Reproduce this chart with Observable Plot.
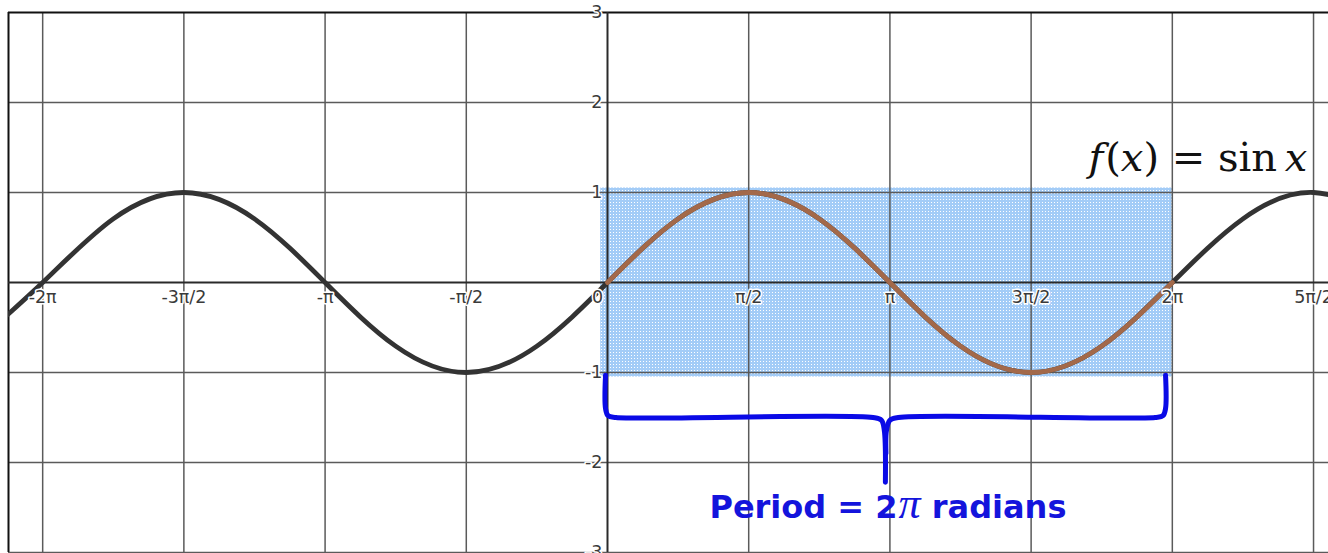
<!DOCTYPE html>
<html><head><meta charset="utf-8">
<script src="https://cdn.jsdelivr.net/npm/d3@7"></script>
<script src="https://cdn.jsdelivr.net/npm/@observablehq/plot@0.6"></script>
<style>html,body{margin:0;padding:0;background:#fff;} svg{display:block;}</style>
</head><body><div id="chart"></div>
<script>
// x values are expressed in units of π
const xDomain = [-2.121, 2.553];
const yDomain = [-3, 3];
const xGrid = [-2, -1.5, -1, -0.5, 0.5, 1, 1.5, 2, 2.5];
const xTickValues = [-2, -1.5, -1, -0.5, 0.5, 1, 1.5, 2, 2.5];
const xTickLabels = ["-2π", "-3π/2", "-π", "-π/2", "π/2", "π", "3π/2", "2π", "5π/2"];
const originLabel = ["0"];
const yGrid = [-3, -2, -1, 1, 2];
const yTickValues = [3, 2, 1, -1, -2, -3];
const yTickLabels = ["3", "2", "1", "-1", "-2", "-3"];

// f(x) = sin x, read at every π/4
const curveX = [-2.25, -2, -1.75, -1.5, -1.25, -1, -0.75, -0.5, -0.25, 0, 0.25, 0.5, 0.75, 1, 1.25, 1.5, 1.75, 2, 2.25, 2.5, 2.75];
const curveY = [-0.707, 0, 0.707, 1, 0.707, 0, -0.707, -1, -0.707, 0, 0.707, 1, 0.707, 0, -0.707, -1, -0.707, 0, 0.707, 1, 0.707];
const periodRange = [0, 2];

// shaded one-period band
const bandX = [-0.024, 2.0];
const bandY = [-1.05, 1.05];

// curly brace under the band
const braceLeftX  = [-0.007, -0.007, 0.002, 0.030, 0.940, 0.970, 0.980, 0.984];
const braceLeftY  = [-1.03, -1.40, -1.48, -1.50, -1.50, -1.53, -1.64, -2.22];
const braceRightX = [1.976, 1.976, 1.967, 1.939, 1.030, 1.000, 0.988, 0.986];
const braceRightY = [-1.03, -1.40, -1.48, -1.50, -1.50, -1.53, -1.64, -1.90];

const formulaLabel = {text: "f(x) = sin x", x: 1.703, y: 1.376};
const periodLabel = {text: "Period = 2π radians", x: 0.993, y: -2.50};

const curve = curveX.map((x, i) => ({x, y: curveY[i]}));
const periodCurve = curve.filter(d => d.x >= periodRange[0] && d.x <= periodRange[1]);
const braceLeft = braceLeftX.map((x, i) => ({x, y: braceLeftY[i]}));
const braceRight = braceRightX.map((x, i) => ({x, y: braceRightY[i]}));
const xTicks = xTickValues.map((v, i) => ({v, label: xTickLabels[i]}));
const yTicks = yTickValues.map((v, i) => ({v, label: yTickLabels[i]}));

const gridColor = "#5a5a5a";
const tickFont = {fontFamily: "DejaVu Sans", fontSize: 17.5, fill: "#3a3a3a", stroke: "white", strokeWidth: 3};

const svg = Plot.plot({
  width: 1328, height: 553,
  marginTop: 12, marginLeft: 8, marginRight: 0, marginBottom: 1,
  x: {domain: xDomain, axis: null},
  y: {domain: yDomain, axis: null},
  style: {background: "white"},
  marks: [
    Plot.rect([{}], {x1: bandX[0], x2: bandX[1], y1: bandY[0], y2: bandY[1], fill: "url(#dots)"}),
    Plot.ruleX(xGrid, {stroke: gridColor, strokeWidth: 1.5}),
    Plot.ruleY(yGrid, {stroke: gridColor, strokeWidth: 1.5}),
    Plot.ruleY([yDomain[1]], {stroke: "#111", strokeWidth: 2}),
    Plot.ruleX([xDomain[0]], {stroke: "#111", strokeWidth: 2}),
    Plot.ruleX([0], {stroke: "#2a2a2a", strokeWidth: 2}),
    Plot.ruleY([0], {stroke: "#2a2a2a", strokeWidth: 2}),
    Plot.line(curve, {x: "x", y: "y", curve: "natural", stroke: "#333", strokeWidth: 4.8, clip: true}),
    Plot.line(periodCurve, {x: "x", y: "y", curve: "natural", stroke: "#a3694a", strokeWidth: 4.8}),
    Plot.line(braceLeft, {x: "x", y: "y", curve: "catmull-rom", stroke: "#0a0ae6", strokeWidth: 5, strokeLinejoin: "round"}),
    Plot.line(braceRight, {x: "x", y: "y", curve: "catmull-rom", stroke: "#0a0ae6", strokeWidth: 5, strokeLinejoin: "round"}),
    Plot.text(xTicks, {x: "v", y: 0, text: "label", lineAnchor: "top", dy: 8, ...tickFont}),
    Plot.text(originLabel, {x: 0, y: 0, text: d => d, lineAnchor: "top", dy: 8, dx: -10, ...tickFont}),
    Plot.text(yTicks, {x: 0, y: "v", text: "label", textAnchor: "end", dx: -5, ...tickFont}),
    Plot.text([formulaLabel], {x: "x", y: "y", text: "text", textAnchor: "start", fontFamily: "DejaVu Serif", fontSize: 40, fill: "#111"}),
    Plot.text([periodLabel], {x: "x", y: "y", text: "text", textAnchor: "middle", fontFamily: "DejaVu Sans", fontWeight: "bold", fontSize: 32, fill: "#1414dc"})
  ]
});

// dotted fill pattern for the band
const defs = d3.select(svg).insert("defs", ":first-child");
const pat = defs.append("pattern").attr("id", "dots").attr("width", 3).attr("height", 3).attr("patternUnits", "userSpaceOnUse");
pat.append("rect").attr("width", 3).attr("height", 3).attr("fill", "#a3ccf7");
pat.append("rect").attr("x", 1).attr("y", 1).attr("width", 1).attr("height", 1).attr("fill", "#ffffff");

function richText(content, parts) {
  d3.select(svg).selectAll("text").filter(function() { return this.textContent === content; }).each(function() {
    const t = d3.select(this);
    t.text(null);
    for (const p of parts) {
      const s = t.append("tspan").text(p.text);
      if (p.style) s.attr("font-style", p.style);
      if (p.family) s.attr("font-family", p.family);
      if (p.weight) s.attr("font-weight", p.weight);
      if (p.size) s.attr("font-size", p.size);
      if (p.dx) s.attr("dx", p.dx);
    }
  });
}
richText(formulaLabel.text, [
  {text: "f", style: "italic"}, {text: "(", dx: 2}, {text: "x", style: "italic"}, {text: ")"},
  {text: " = "}, {text: "sin"}, {text: " "}, {text: "x", style: "italic", dx: -5}
]);
richText(periodLabel.text, [
  {text: "Period = 2"}, {text: "π", style: "italic", family: "Liberation Serif", weight: "normal", size: 44, dx: 1}, {text: " radians"}
]);

document.getElementById("chart").appendChild(svg);
</script>
</body></html>
